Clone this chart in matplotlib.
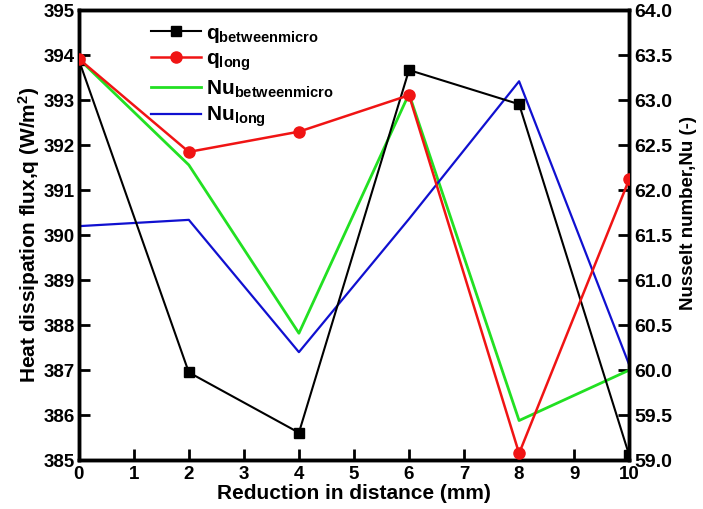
import matplotlib
matplotlib.use("Agg")
import matplotlib.pyplot as plt

plt.rcParams['font.family'] = ['Liberation Sans', 'DejaVu Sans']
plt.rcParams['font.weight'] = 'bold'
plt.rcParams['mathtext.fontset'] = 'custom'
plt.rcParams['mathtext.rm'] = 'Liberation Sans:bold'
plt.rcParams['mathtext.bf'] = 'Liberation Sans:bold'
plt.rcParams['mathtext.it'] = 'Liberation Sans:bold'

# Reduction in distance (mm)
distance = [0, 2, 4, 6, 8, 10]
# Heat dissipation flux (W/m^2)
q_betweenmicro = [393.90, 386.95, 385.61, 393.67, 392.91, 385.11]
q_long = [393.92, 391.85, 392.30, 393.11, 385.15, 391.24]
# Nusselt number (-)
nu_betweenmicro = [63.46, 62.28, 60.41, 63.07, 59.44, 60.00]
nu_long = [61.60, 61.67, 60.20, 61.68, 63.21, 60.06]

fig = plt.figure(figsize=(7.03, 5.09), dpi=100)
ax = fig.add_axes([0.112, 0.096, 0.783, 0.884])
ax2 = ax.twinx()

green, = ax2.plot(distance, nu_betweenmicro, color='#22e022', lw=2.0, zorder=2,
                  label=r'Nu$_{\mathrm{betweenmicro}}$')
blue, = ax2.plot(distance, nu_long, color='#1010d0', lw=1.6, zorder=2,
                 label=r'Nu$_{\mathrm{long}}$')

ax.set_zorder(ax2.get_zorder() + 1)
ax.patch.set_visible(False)
black, = ax.plot(distance, q_betweenmicro, color='black', lw=1.5, marker='s',
                 markersize=7, zorder=3, label=r'q$_{\mathrm{betweenmicro}}$')
red, = ax.plot(distance, q_long, color='#f01414', lw=1.8, marker='o',
               markersize=8, zorder=4, label=r'q$_{\mathrm{long}}$')

ax.set_xlim(0, 10)
ax.set_ylim(385, 395)
ax2.set_ylim(59.0, 64.0)
ax.set_xticks(range(0, 11))
ax.set_yticks(range(385, 396))
ax2.set_yticks([59.0 + 0.5 * i for i in range(11)])
ax2.set_yticklabels([f'{59.0 + 0.5 * i:.1f}' for i in range(11)])

for a in (ax, ax2):
    for s in a.spines.values():
        s.set_linewidth(2.5)
    a.tick_params(direction='in', length=8, width=2, labelsize=13.5, pad=3)
ax2.tick_params(axis='y', labelsize=14, pad=4)
ax.tick_params(axis='x', pad=4)

ax.set_xlabel('Reduction in distance (mm)', fontsize=15, fontweight='bold', labelpad=1)
ax.set_ylabel(r'Heat dissipation flux,q (W/m$^{2}$)', fontsize=15, fontweight='bold', labelpad=1)
ax2.set_ylabel('Nusselt number,Nu (-)', fontsize=13.5, fontweight='bold')
ax2.yaxis.set_label_coords(1.093, 0.55)

leg = ax.legend(handles=[black, red, green, blue], loc='upper left',
                bbox_to_anchor=(0.097, 1.012), frameon=False, fontsize=15,
                handlelength=2.4, handletextpad=0.25, labelspacing=0.25)

fig.savefig('out.png', dpi=100)
